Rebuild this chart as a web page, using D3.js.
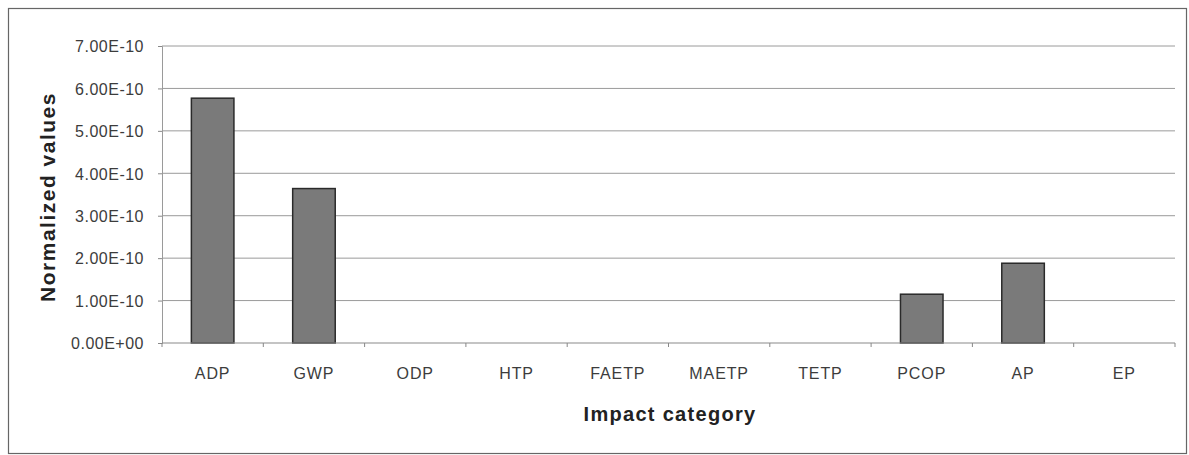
<!DOCTYPE html>
<html>
<head>
<meta charset="utf-8">
<script src="https://cdn.jsdelivr.net/npm/d3@7"></script>
<style>
  body { margin: 0; background: #fff; }
  svg text { font-family: "Liberation Sans", Arial, sans-serif; }
</style>
</head>
<body>
<div id="viz"></div>
<script>
// data
var categories = ["ADP", "GWP", "ODP", "HTP", "FAETP", "MAETP", "TETP", "PCOP", "AP", "EP"];
var values = [5.77e-10, 3.64e-10, 0, 0, 0, 0, 0, 1.15e-10, 1.88e-10, 0];
var yTicks = [0, 1e-10, 2e-10, 3e-10, 4e-10, 5e-10, 6e-10, 7e-10];

var W = 1189, H = 455;
var margin = {top: 46, right: 14, bottom: 112, left: 162},
    width = W - margin.left - margin.right,
    height = H - margin.top - margin.bottom;

var svg = d3.select("#viz").append("svg")
    .attr("width", W)
    .attr("height", H);

// outer frame
svg.append("rect")
    .attr("x", 8.5).attr("y", 8.5)
    .attr("width", 1178).attr("height", 445)
    .attr("fill", "none")
    .attr("stroke", "#666")
    .attr("stroke-width", 1.2);

var g = svg.append("g")
    .attr("transform", "translate(" + margin.left + "," + margin.top + ")");

var x = d3.scaleBand().domain(categories).range([0, width]).paddingInner(0.58).paddingOuter(0.29);
var xb = d3.scaleLinear().domain([0, categories.length]).range([0, width]);
var y = d3.scaleLinear().domain([0, 7e-10]).range([height, 0]);

function fmt(v) {
  if (v == 0) return "0.00E+00";
  var e = Math.floor(Math.log10(v) + 1e-9);
  var m = v / Math.pow(10, e);
  return m.toFixed(2) + "E" + (e < 0 ? "-" : "+") + (Math.abs(e) < 10 ? "0" : "") + Math.abs(e);
}

// gridlines
g.selectAll(".grid")
    .data(yTicks.slice(1))
  .enter().append("line")
    .attr("x1", 0).attr("x2", width)
    .attr("y1", function(d) { return y(d); })
    .attr("y2", function(d) { return y(d); })
    .attr("stroke", "#9a9a9a")
    .attr("stroke-width", 1);

// y axis
var yAxis = d3.axisLeft(y).tickValues(yTicks).tickFormat(fmt).tickSize(4).tickPadding(14);
var ya = g.append("g").call(yAxis);
ya.select(".domain").attr("stroke", "#9a9a9a");
ya.selectAll(".tick line").attr("stroke", "#888");
ya.selectAll("text").attr("font-size", "16px").attr("fill", "#3c3c3c")
    .attr("dy", "0.36em")
    .style("letter-spacing", "0.5px")
    .style("font-family", "'Liberation Sans', Arial, sans-serif");

// bars
g.selectAll(".bar")
    .data(values)
  .enter().append("rect")
    .attr("class", "bar")
    .attr("x", function(d, i) { return x(categories[i]); })
    .attr("width", x.bandwidth())
    .attr("y", function(d) { return y(d); })
    .attr("height", function(d) { return height - y(d); })
    .attr("fill", function(d) { return d > 0 ? "#7a7a7a" : "none"; })
    .attr("stroke", function(d) { return d > 0 ? "#2a2a2a" : "none"; })
    .attr("stroke-width", 1.5);

// x axis line + boundary ticks
g.append("line")
    .attr("x1", 0).attr("x2", width)
    .attr("y1", height).attr("y2", height)
    .attr("stroke", "#8a8a8a").attr("stroke-width", 1.2);
g.selectAll(".xt")
    .data(d3.range(categories.length + 1))
  .enter().append("line")
    .attr("x1", function(d) { return xb(d); })
    .attr("x2", function(d) { return xb(d); })
    .attr("y1", height).attr("y2", height + 4)
    .attr("stroke", "#888");

g.selectAll(".xl")
    .data(categories)
  .enter().append("text")
    .attr("x", function(d) { return x(d) + x.bandwidth() / 2; })
    .attr("y", height + 36)
    .attr("text-anchor", "middle")
    .attr("font-size", "16px")
    .attr("fill", "#3c3c3c")
    .style("letter-spacing", "0.9px")
    .text(function(d) { return d; });

// axis titles
svg.append("text")
    .attr("x", 670).attr("y", 421)
    .attr("text-anchor", "middle")
    .attr("font-size", "20px")
    .attr("font-weight", "bold")
    .attr("fill", "#222")
    .style("letter-spacing", "1.3px")
    .text("Impact category");

svg.append("text")
    .attr("transform", "translate(55,197) rotate(-90)")
    .attr("text-anchor", "middle")
    .attr("font-size", "21px")
    .attr("font-weight", "bold")
    .attr("fill", "#222")
    .style("letter-spacing", "1.5px")
    .text("Normalized values");
</script>
</body>
</html>
